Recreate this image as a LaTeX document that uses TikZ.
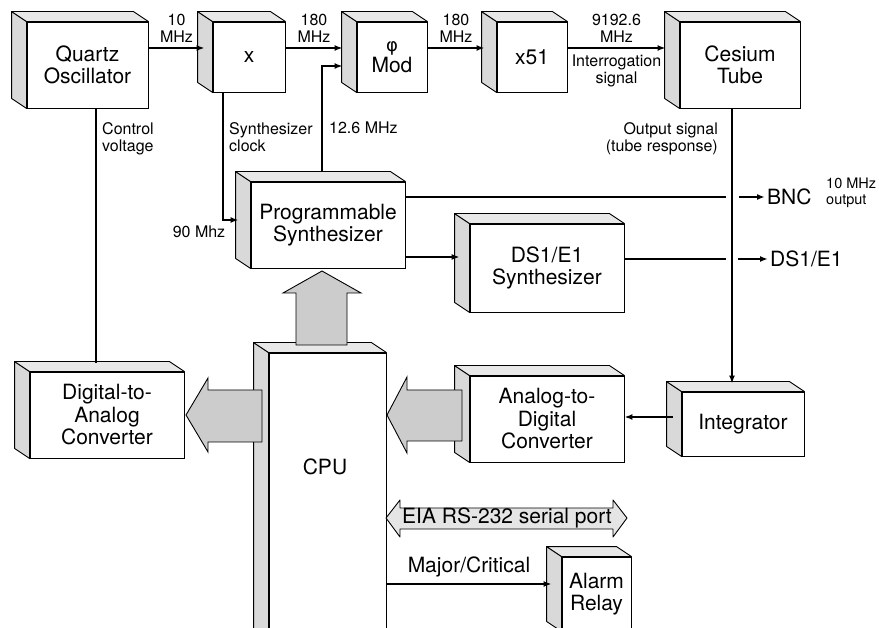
\documentclass[tikz,border=0pt]{standalone}
\usepackage{fontspec}
\setmainfont{TeX Gyre Heros}
\newfontfamily\phifont{DejaVu Sans}
\usetikzlibrary{arrows.meta,calc}

\definecolor{sidegray}{gray}{0.85}
\definecolor{topgray}{gray}{0.91}
\definecolor{arrowgray}{gray}{0.80}
\definecolor{portgray}{gray}{0.90}

\tikzset{
  box/.style={draw, fill=white, line width=0.9pt, align=center, inner sep=0pt,
    font=\fontsize{21}{22.5}\selectfont},
  face/.style={draw, line width=0.9pt, line join=round},
  wire/.style={line width=1.6pt},
  conn/.style={wire, -{Latex[length=8pt,width=6pt]}},
  lbl/.style={inner sep=0pt, font=\fontsize{16}{17}\selectfont},
  big/.style={inner sep=0pt, font=\fontsize{21}{22.5}\selectfont},
  blockarrow/.style={draw, fill=arrowgray, line width=0.9pt, line join=miter},
}

\begin{document}
\begin{tikzpicture}[x=1pt,y=-1pt]
  \useasboundingbox (0,0) rectangle (879,628);
  \clip (0,0) rectangle (879,628);

  % front faces
  \node[box, minimum width=121pt, minimum height=86pt] (quartz) at (87.5,65) {Quartz\\Oscillator};
  \node[box, minimum width=72pt, minimum height=70pt] (mult) at (249,57) {x};
  \node[box, minimum width=70pt, minimum height=70pt] (phimod) at (392,57)
    {{\phifont\fontsize{18}{18}\selectfont φ}\\[-2pt]Mod};
  \node[box, minimum width=70pt, minimum height=70pt] (x51) at (532,57) {x51};
  \node[box, minimum width=120pt, minimum height=86pt] (cesium) at (740,65) {Cesium\\Tube};
  \node[box, minimum width=154pt, minimum height=86pt] (progsynth) at (328,225) {Programmable\\Synthesizer};
  \node[box, minimum width=154pt, minimum height=88pt] (ds1synth) at (547,268) {DS1/E1\\Synthesizer};
  \node[box, minimum width=154pt, minimum height=86pt] (dac) at (107,415) {Digital-to-\\Analog\\Converter};
  \node[box, minimum width=117pt, minimum height=287pt] (cpu) at (327.5,496.5) {};
  \node[box, minimum width=154pt, minimum height=86pt] (adc) at (547,419) {Analog-to-\\Digital\\Converter};
  \node[box, minimum width=122pt, minimum height=64pt] (integ) at (743,424) {Integrator};
  \node[box, minimum width=69pt, minimum height=74pt] (alarm) at (596.5,594) {Alarm\\Relay};

  % side and top faces
  \foreach \n in {quartz, mult, phimod, x51, cesium, progsynth, ds1synth, dac, cpu, adc, integ, alarm} {
    \draw[face, fill=sidegray] (\n.north west) -- ++(-15,-10) -- ($(\n.south west)+(-15,-10)$) -- (\n.south west) -- cycle;
    \draw[face, fill=topgray] (\n.north west) -- ++(-15,-10) -- ($(\n.north east)+(-15,-10)$) -- (\n.north east) -- cycle;
  }

  % bus arrows
  \draw[blockarrow] (296,345) -- (296,293) -- (283,293) -- (322,271) -- (361,293) -- (347,293) -- (347,345) -- cycle;
  \draw[blockarrow] (262,390) -- (208,390) -- (208,378) -- (186,415) -- (208,452) -- (208,442) -- (262,442) -- cycle;
  \draw[blockarrow] (462,390) -- (407,390) -- (407,377) -- (387,415) -- (407,453) -- (407,441) -- (462,441) -- cycle;
  \draw[face, fill=portgray] (386,518) -- (400,500) -- (400,508) -- (613,508) -- (613,500) -- (627,518)
    -- (613,537) -- (613,529) -- (400,529) -- (400,537) -- cycle;
  \node[big] (eia) at (507,518) {EIA RS-232 serial port};
  \node[big] (cpulbl) at (325,467) {CPU};

  % rows and columns
  \coordinate (r1) at (0,48);
  \coordinate (r126) at (0,66);
  \coordinate (r90) at (0,220);
  \coordinate (rbnc) at (0,197);
  \coordinate (rds) at (0,257);
  \coordinate (rds1) at (0,259);
  \coordinate (radc) at (0,417);
  \coordinate (ralarm) at (0,584);
  \coordinate (cvx) at (96,0);
  \coordinate (scx) at (223,0);
  \coordinate (fmx) at (322,0);
  \coordinate (outx) at (732,0);

  % signal chain
  \draw[conn] (quartz.east |- r1) -- node[lbl, above=5pt, align=center] (l10) {10\\MHz}
    ($(mult.west |- r1)+(-8,0)$);
  \draw[conn] (mult.east |- r1) -- node[lbl, above=5pt, align=center] (l180a) {180\\MHz}
    ($(phimod.west |- r1)+(-14,0)$);
  \draw[conn] (phimod.east |- r1) -- node[lbl, above=5pt, align=center] (l180b) {180\\MHz}
    ($(x51.west |- r1)+(-12,0)$);
  \draw[conn] (x51.east |- r1) -- node[lbl, above=5pt, align=center] (l9192) {9192.6\\MHz}
    node[lbl, below=6pt, align=center] (linterr) {Interrogation\\signal}
    ($(cesium.west |- r1)+(-14,0)$);

  \draw[wire] (quartz.south -| cvx) -- ($(dac.north -| cvx)+(0,-9)$);
  \draw[conn] (mult.south -| scx) |- ($(progsynth.west |- r90)+(-12,0)$);
  \draw[conn] ($(progsynth.north -| fmx)+(0,-10)$) |- ($(phimod.west |- r126)+(-14,0)$);
  \draw[conn] (cesium.south -| outx) -- ($(integ.north -| outx)+(0,-8)$);

  % outputs
  \node[big, anchor=west, inner sep=2pt] (bnc) at (765,197) {BNC};
  \node[lbl, font=\fontsize{14.5}{16}\selectfont, anchor=west, align=left] (bncnote) at (826,193) {10 MHz\\output};
  \node[big, anchor=west, inner sep=2pt] (ds1out) at (768,259) {DS1/E1};
  \draw[wire] (progsynth.east |- rbnc) -- ($(outx |- rbnc)+(-6,0)$);
  \draw[conn] ($(outx |- rbnc)+(7,0)$) -- (bnc.west);
  \draw[conn] (progsynth.east |- rds) -- ($(ds1synth.west |- rds)+(-10,0)$);
  \draw[wire] (ds1synth.east |- rds1) -- ($(outx |- rds1)+(-6,0)$);
  \draw[conn] ($(outx |- rds1)+(6,0)$) -- (ds1out.west);

  \draw[conn] ($(integ.west |- radc)+(-9,0)$) -- (adc.east |- radc);
  \draw[conn] (cpu.east |- ralarm) -- node[big, above=6pt] (major) {Major/Critical}
    ($(alarm.west |- ralarm)+(-10,0)$);

  % labels
  \node[lbl, anchor=north west, align=left] (ctrl) at (102,122) {Control\\voltage};
  \node[lbl, anchor=north west, align=left] (sclk) at (229,122) {Synthesizer\\clock};
  \node[lbl, anchor=north west] (l126) at (329,122) {12.6 MHz};
  \node[lbl, anchor=north east, align=right] (outsig) at (718,122) {Output signal\\(tube response)};
  \node[lbl] (l90) at (199,232) {90 Mhz};
\end{tikzpicture}
\end{document}
